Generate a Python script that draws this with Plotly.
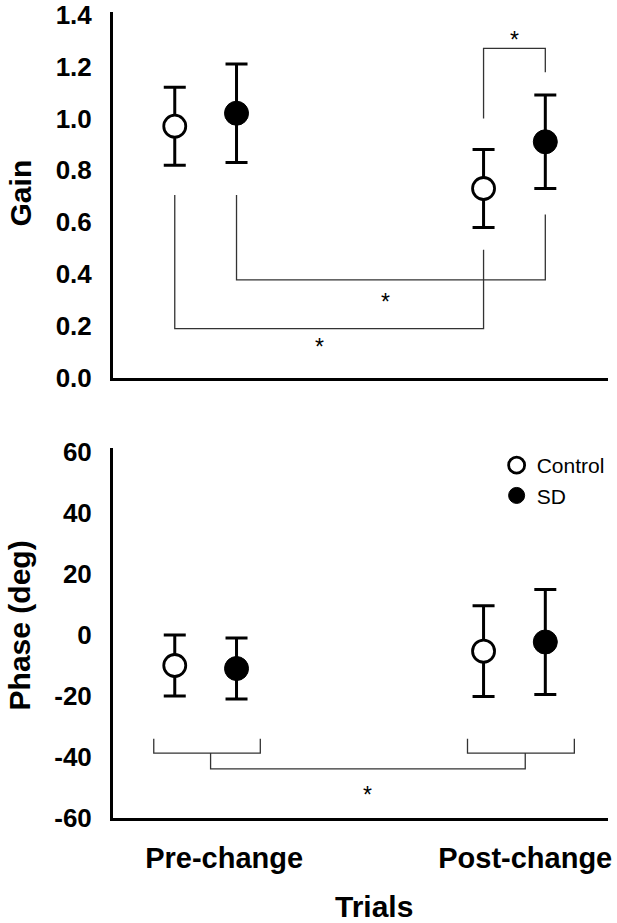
import plotly.graph_objects as go

# ---------------- data ----------------
trials = ["Pre-change", "Post-change"]
trial_pos = [1, 2]
trial_label_pos = [1.06, 2.035]
groups = ["Control", "SD"]
group_offset = [-0.1, 0.1]

gain_control = [0.97, 0.73]
gain_control_err = [0.15, 0.15]
gain_sd = [1.02, 0.91]
gain_sd_err = [0.19, 0.18]

phase_control = [-10.0, -5.3]
phase_control_err = [10.0, 14.9]
phase_sd = [-11.0, -2.3]
phase_sd_err = [10.0, 17.2]

gain_ticks = [0.0, 0.2, 0.4, 0.6, 0.8, 1.0, 1.2, 1.4]
gain_tick_labels = ["0.0", "0.2", "0.4", "0.6", "0.8", "1.0", "1.2", "1.4"]
phase_ticks = [-60, -40, -20, 0, 20, 40, 60]
phase_tick_labels = ["-60", "-40", "-20", "0", "20", "40", "60"]

# significance brackets (x, y in data units)
gain_brackets = [
    ([0.9, 0.9, 1.9, 1.9], [0.705, 0.19, 0.19, 0.494]),
    ([1.1, 1.1, 2.1, 2.1], [0.705, 0.378, 0.378, 0.63]),
    ([1.9, 1.9, 2.1, 2.1], [1.0, 1.27, 1.27, 1.178]),
]
gain_stars = [(1.368, 0.14), (1.584, 0.312), (2.0, 1.323)]

phase_brackets = [
    ([0.832, 0.832, 1.177, 1.177], [-34, -38.7, -38.7, -34]),
    ([1.848, 1.848, 2.194, 2.194], [-34, -38.7, -38.7, -34]),
    ([1.016, 1.016, 2.035, 2.035], [-38.7, -43.9, -43.9, -38.7]),
]
phase_stars = [(1.523, -50.8)]

# ---------------- figure ----------------
FONT = "Liberation Sans, Arial, sans-serif"
fig = go.Figure()

def xs(gi):
    return [p + group_offset[gi] for p in trial_pos]

series = [
    ("x", "y", gain_control, gain_control_err, gain_sd, gain_sd_err, True),
    ("x2", "y2", phase_control, phase_control_err, phase_sd, phase_sd_err, False),
]

for xa, ya, brs in [("x", "y", gain_brackets), ("x2", "y2", phase_brackets)]:
    for bx, by in brs:
        fig.add_trace(go.Scatter(x=bx, y=by, mode="lines", xaxis=xa, yaxis=ya,
                                 line=dict(color="#333333", width=1.3),
                                 showlegend=False, hoverinfo="skip"))

for xa, ya, cv, ce, sv, se, first in series:
    fig.add_trace(go.Scatter(
        x=xs(0), y=cv, mode="markers", name=groups[0], xaxis=xa, yaxis=ya,
        error_y=dict(type="data", array=ce, visible=True, color="black", thickness=3, width=11),
        marker=dict(symbol="circle", size=22, color="white", line=dict(color="black", width=2.8)),
        showlegend=not first, legendrank=1))
    fig.add_trace(go.Scatter(
        x=xs(1), y=sv, mode="markers", name=groups[1], xaxis=xa, yaxis=ya,
        error_y=dict(type="data", array=se, visible=True, color="black", thickness=3, width=11),
        marker=dict(symbol="circle", size=24, color="black", line=dict(color="black", width=1)),
        showlegend=not first, legendrank=2))

annotations = []
for sx, sy in gain_stars:
    annotations.append(dict(x=sx, y=sy, xref="x", yref="y", text="*", showarrow=False,
                            font=dict(family=FONT, size=23, color="black"), yshift=-5))
for sx, sy in phase_stars:
    annotations.append(dict(x=sx, y=sy, xref="x2", yref="y2", text="*", showarrow=False,
                            font=dict(family=FONT, size=23, color="black"), yshift=-5))

title_font = dict(family=FONT, size=30, color="black", weight="bold")
annotations += [
    dict(text="Gain", x=-0.187, y=0.7754, xref="paper", yref="paper", textangle=-90,
         showarrow=False, font=title_font, xanchor="center", yanchor="middle"),
    dict(text="Phase (deg)", x=-0.187, y=0.2395, xref="paper", yref="paper", textangle=-90,
         showarrow=False, font=title_font, xanchor="center", yanchor="middle"),
    dict(text="Trials", x=0.527, y=-0.11, xref="paper", yref="paper",
         showarrow=False, font=dict(family=FONT, size=30, color="black", weight="bold"),
         xanchor="center", yanchor="middle"),
]

tick_font = dict(family=FONT, size=26, color="black", weight="bold")
axis_common = dict(showline=True, linecolor="black", linewidth=3, showgrid=False,
                   zeroline=False, ticks="", automargin=False, ticklabeloverflow="allow")

fig.update_layout(
    width=617, height=923,
    margin=dict(l=113, r=7, t=12, b=105),
    paper_bgcolor="white", plot_bgcolor="white",
    xaxis=dict(domain=[0, 1], range=[0.7, 2.303], anchor="y", showticklabels=False, **axis_common),
    yaxis=dict(domain=[0.5459, 1], range=[0, 1.41], anchor="x", tickvals=gain_ticks,
               ticktext=gain_tick_labels, tickfont=tick_font, ticklabelstandoff=13, **axis_common),
    xaxis2=dict(domain=[0, 1], range=[0.7, 2.303], anchor="y2", tickvals=trial_label_pos,
                ticktext=trials, tickfont=dict(family=FONT, size=29, color="black", weight="bold"),
                ticklabelstandoff=12, **axis_common),
    yaxis2=dict(domain=[0, 0.4591], range=[-60, 61.3], anchor="x2", tickvals=phase_ticks,
                ticktext=phase_tick_labels, tickfont=tick_font, ticklabelstandoff=13, **axis_common),
    legend=dict(x=0.775, y=0.4628, xanchor="left", yanchor="top",
                font=dict(family=FONT, size=21, color="black"),
                bgcolor="rgba(0,0,0,0)", itemsizing="trace", tracegroupgap=0),
    annotations=annotations,
    showlegend=True,
)

# remove the browser's default 8px body margin so the figure fills the window exactly
fig.write_html("out.html", config={"displayModeBar": False},
               post_script="document.body.style.margin='0px';")
